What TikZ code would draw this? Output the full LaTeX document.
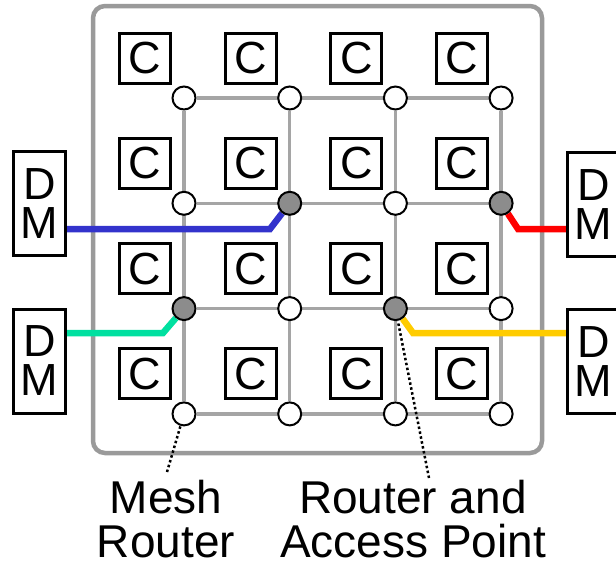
\documentclass[tikz,border=0pt]{standalone}
\usepackage{fontspec}
\setmainfont{Liberation Sans}
\usetikzlibrary{backgrounds}
\definecolor{framegray}{HTML}{9A9A9A}
\definecolor{gridgray}{HTML}{A5A5A5}
\definecolor{apgray}{HTML}{8C8C8C}
\definecolor{linkblue}{HTML}{3333CC}
\definecolor{linkred}{HTML}{FF0000}
\definecolor{linkgreen}{HTML}{00E0A0}
\definecolor{linkyellow}{HTML}{FFCC00}

\begin{document}
\begin{tikzpicture}[x=1pt, y=-1pt,
    router/.style={circle, draw, line width=2pt, fill=white, minimum size=23pt, inner sep=0pt},
    ap/.style={router, fill=apgray},
    client/.style={draw, line width=3pt, fill=white, minimum width=51pt, minimum height=50pt,
      inner sep=0pt, font=\fontsize{45}{45}\selectfont},
    dmbox/.style={draw, line width=3pt, fill=white, minimum width=52pt, minimum height=104pt,
      inner sep=0pt, align=center, font=\fontsize{45}{39}\selectfont},
    link/.style={line width=6.5pt},
    leader/.style={line width=2.5pt, dash pattern=on 2.5pt off 2.5pt},
    note/.style={align=center, inner sep=0pt, font=\fontsize{46}{44.5}\selectfont}]
  \useasboundingbox (0,0) rectangle (616,565);

  % mesh routers and clients
  \foreach \i/\kinds in {1/{router,router,router,router}, 2/{router,ap,router,ap},
                         3/{ap,router,ap,router}, 4/{router,router,router,router}}
    \foreach \k [count=\j] in \kinds {
      \node[\k] (r-\i-\j) at ({184+105.7*(\j-1)}, {98+105.3*(\i-1)}) {};
      \node[client] (c-\i-\j) at ({145+105.7*(\j-1)}, {58+105.3*(\i-1)}) {C};
    }

  \node[dmbox] (dmL1) at (39.5,203.5) {D\\M};
  \node[dmbox] (dmL2) at (39.5,361) {D\\M};
  \node[dmbox] (dmR1) at (593.5,204.5) {D\\M};
  \node[dmbox] (dmR2) at (593.5,361.5) {D\\M};

  \node[note] (mesh) at (166,519) {Mesh\\Router};
  \node[note] (access) at (413,519) {Router and\\Access Point};

  \coordinate (kBlue) at (270,229);
  \coordinate (kRed) at (518,229);
  \coordinate (kGreen) at (163,333);
  \coordinate (kYellow) at (413,333);
  \coordinate (tipMesh) at (167,472);
  \coordinate (tipAccess) at (429,478);

  \begin{scope}[on background layer]
    \draw[framegray, line width=4.5pt, rounded corners=12pt] (93,6) rectangle (542,453);
    \foreach \i in {1,...,4} {
      \draw[gridgray, line width=3.5pt] (r-\i-1) -- (r-\i-4);
      \draw[gridgray, line width=3.5pt] (r-1-\i) -- (r-4-\i);
    }

    \draw[leader] (tipMesh) -- (r-4-1);
    \draw[leader] (tipAccess) -- (r-3-3);

    \draw[link, linkblue] (r-2-2) -- (kBlue) -- (kBlue -| dmL1.east);
    \draw[link, linkred] (r-2-4) -- (kRed) -- (kRed -| dmR1.west);
    \draw[link, linkgreen] (r-3-1) -- (kGreen) -- (kGreen -| dmL2.east);
    \draw[link, linkyellow] (r-3-3) -- (kYellow) -- (kYellow -| dmR2.west);
  \end{scope}
\end{tikzpicture}
\end{document}
